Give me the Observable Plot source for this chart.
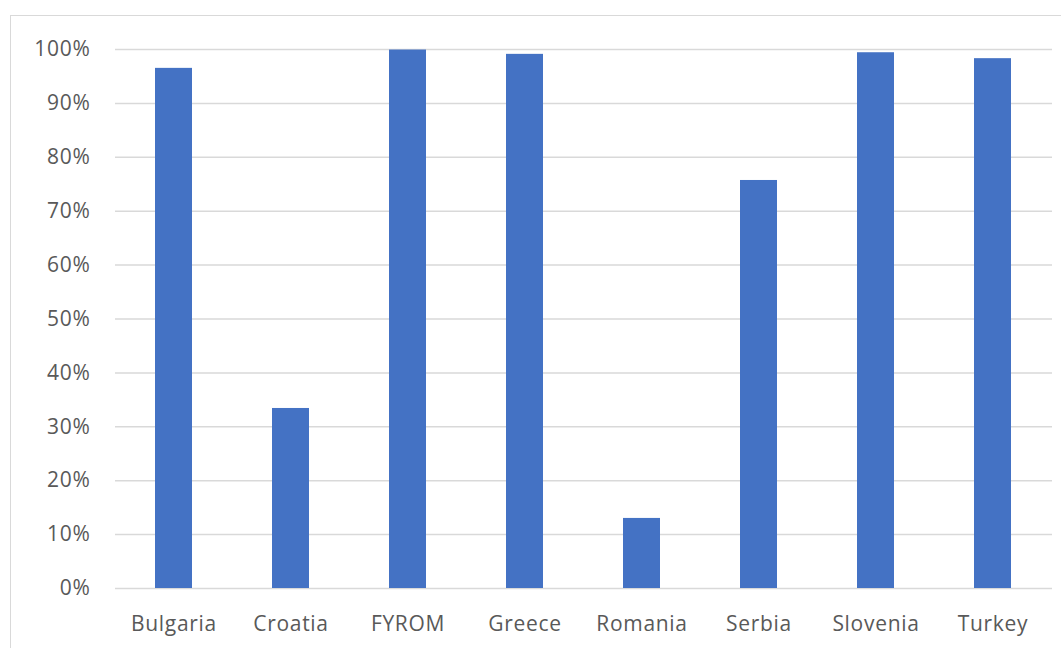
<!DOCTYPE html>
<html>
<head>
<meta charset="utf-8">
<script src="https://cdn.jsdelivr.net/npm/d3@7"></script>
<script src="https://cdn.jsdelivr.net/npm/@observablehq/plot@0.6"></script>
<style>
  html, body { margin: 0; padding: 0; background: #fff; overflow: hidden; }
  #wrap { position: relative; width: 1061px; height: 648px; }
  #box { position: absolute; left: 10px; top: 15px; width: 1100px; height: 700px;
         border: 1.5px solid #d9d9d9; box-sizing: border-box; }
  #chart { position: absolute; left: 0; top: 0; }
</style>
</head>
<body>
<div id="wrap">
  <div id="box"></div>
  <div id="chart"></div>
</div>
<script>
// Share of each country (fraction of 1)
const countries = ["Bulgaria", "Croatia", "FYROM", "Greece", "Romania", "Serbia", "Slovenia", "Turkey"];
const shares = [0.965, 0.334, 0.999, 0.991, 0.130, 0.757, 0.994, 0.983];
const yTicks = [0, 0.1, 0.2, 0.3, 0.4, 0.5, 0.6, 0.7, 0.8, 0.9, 1.0];

const data = countries.map((c, i) => ({country: c, share: shares[i]}));

const chart = Plot.plot({
  width: 1061,
  height: 648,
  marginLeft: 115,
  marginRight: 9,
  marginTop: 49,
  marginBottom: 60,
  style: {fontFamily: "'Open Sans', sans-serif", fontSize: "21px", letterSpacing: "0.7px", color: "#595959", background: "transparent"},
  x: {domain: countries, paddingInner: 0.68, paddingOuter: 0.34, label: null},
  y: {domain: [0, 1], label: null},
  marks: [
    Plot.ruleY(yTicks, {stroke: "#d9d9d9", strokeWidth: 1.5}),
    Plot.barY(data, {x: "country", y: "share", fill: "#4472C4"}),
    Plot.axisY({ticks: yTicks, tickFormat: d3.format(".0%"), tickSize: 0, tickPadding: 25, fill: "#595959"}),
    Plot.axisX({tickSize: 0, tickPadding: 28, fill: "#595959"})
  ]
});
document.getElementById("chart").appendChild(chart);
</script>
</body>
</html>
